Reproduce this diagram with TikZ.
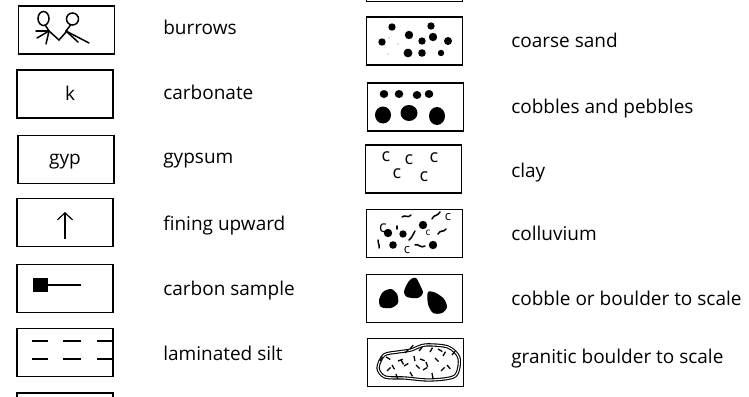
\documentclass[tikz,border=0pt]{standalone}
\usepackage{fontspec}
\setmainfont{Open Sans}
\usetikzlibrary{arrows.meta}

\begin{document}
\begin{tikzpicture}[
            x = 1pt,
            y = -1pt,
            > = {Straight Barb[length=7pt, width=15pt]},
            semithick
        ]

        \tikzstyle{symbox}=[
            draw = black,
            line width = 1.3pt,
            minimum width = 96pt,
            minimum height = 48pt,
            inner sep = 0pt
        ]
        \tikzstyle{lbl}=[
            anchor = base west,
            inner sep = 0pt,
            font = \fontsize{19}{22}\selectfont
        ]
        \tikzstyle{sym}=[
            anchor = base,
            inner sep = 0pt,
            font = \fontsize{19}{22}\selectfont
        ]
        \tikzstyle{claysym}=[
            inner sep = 0pt,
            font = \fontsize{18}{20}\selectfont
        ]

        \clip (0,0) rectangle (749,396);
        \fill[white] (0,0) rectangle (749,396);

        % left column
        \node[symbox] (burrows) at (66.5,30) {};
        \node[symbox] (carbonate) at (65,94) {};
        \node[symbox] (gypsum) at (66,159.5) {};
        \node[symbox] (fining) at (65,222.5) {};
        \node[symbox] (carbon) at (65,288.5) {};
        \node[symbox] (silt) at (65,352.5) {};
        \node[symbox] (nextleft) at (65,417) {};

        \node[lbl] (burrows-lbl) at (163,35) {burrows};
        \node[lbl] (carbonate-lbl) at (163,99) {carbonate};
        \node[lbl] (gypsum-lbl) at (163,163) {gypsum};
        \node[lbl] (fining-lbl) at (163,230) {fining upward};
        \node[lbl] (carbon-lbl) at (163,295) {carbon sample};
        \node[lbl] (silt-lbl) at (163,360) {laminated silt};

        % burrow traces
        \begin{scope}[line width=1.5pt, line cap=round]
            \draw (43.5,18.5) ellipse (5.5pt and 7pt);
            \draw (45.5,25.5) -- (49,31);
            \draw (49,31) -- (36,31);
            \draw (49,31) -- (37,38);
            \draw (49,31) -- (46,44);
            \draw (49,31) -- (59,40) -- (67,31);
            \draw (72.5,19) ellipse (6pt and 6pt);
            \draw (70.5,25) -- (66,31);
            \draw (66,31) -- (89,43);
            \draw (66,31) -- (78,42);
        \end{scope}

        \node[sym] (k) at (70,100) {k};
        \node[sym] (gyp) at (65,164) {gyp};

        \coordinate (fine-bot) at (65,239);
        \coordinate (fine-top) at (65,212);
        \draw[->, line width=1.2pt] (fine-bot) -- (fine-top);

        \fill (33,278) rectangle (48,292);
        \draw[line width=1.1pt] (48,285) -- (81,285);

        \foreach \y in {341,359}
            \foreach \a/\b in {32/48,63/81,97/113}
                \draw[line width=1.1pt] (\a,\y) -- (\b,\y);

        % right column
        \node[symbox] (prevright) at (414.5,-22.5) {};
        \node[symbox] (sand) at (414.5,41) {};
        \node[symbox] (cobbles) at (415.5,107) {};
        \node[symbox] (clay) at (413.5,169) {};
        \node[symbox] (colluvium) at (414.5,233.5) {};
        \node[symbox] (boulder) at (414.5,298.5) {};
        \node[symbox] (granitic) at (415.5,362.5) {};

        \node[lbl] (sand-lbl) at (511,48) {coarse sand};
        \node[lbl] (cobbles-lbl) at (511,113) {cobbles and pebbles};
        \node[lbl] (clay-lbl) at (511,177) {clay};
        \node[lbl] (colluvium-lbl) at (511,240) {colluvium};
        \node[lbl] (boulder-lbl) at (511,305) {cobble or boulder to scale};
        \node[lbl] (granitic-lbl) at (511,363) {granitic boulder to scale};

        % coarse sand grains
        \foreach \x/\y/\r in {392/27/3.7, 431/26/3.7, 382/42/3.7, 409/35/4.2,
                              422/41/3.7, 433/37/4.2, 448/41/4, 408/53/4.4,
                              422/53/3.8, 441/53/3.2}
            \fill (\x,\y) circle (\r pt);
        \foreach \x/\y in {389/38, 398/44, 388/54}
            \fill[black!25] (\x,\y) circle (0.8pt);

        % pebbles over cobbles
        \foreach \x/\y in {384/94, 399/94, 417/95, 429/94}
            \fill (\x,\y) ellipse (4.3pt and 4pt);
        \fill (383,115) ellipse (8pt and 8.5pt);
        \fill (409,113) ellipse (8.5pt and 8pt);
        \fill (437,116) ellipse (8pt and 9pt);

        \node[claysym] (c1) at (386,157) {c};
        \node[claysym] (c2) at (409,160) {c};
        \node[claysym] (c3) at (434,158) {c};
        \node[claysym] (c4) at (397,174) {c};
        \node[claysym] (c5) at (424,177) {c};

        % colluvium mix
        \foreach \x/\y/\r in {388/233/4.2, 403/234/3.7, 423/225/4.2, 393/245/3.8, 433/245/4.2}
            \fill (\x,\y) circle (\r pt);
        \begin{scope}[line width=1.5pt, line cap=round]
            \draw (402,217) .. controls (405,214) and (408,219) .. (411,215);
            \draw (432,219) .. controls (434,214) and (437,217) .. (440,212);
            \draw (438,234) .. controls (441,229) and (443,233) .. (446,229);
            \draw (409,240) .. controls (412,238) and (413,234) .. (415,231);
            \draw (415,245) .. controls (418,243) and (421,249) .. (425,246);
            \draw (378,240) .. controls (377,243) and (380,244) .. (379,248);
            \draw (397,226) -- (397,229);
        \end{scope}
        \node[claysym, font=\fontsize{16}{18}\selectfont] (cc1) at (383,228) {c};
        \node[claysym, font=\fontsize{13}{15}\selectfont] (cc2) at (448,217) {c};
        \node[claysym, font=\fontsize{13}{15}\selectfont] (cc3) at (407,250) {c};
        \node[claysym, font=\fontsize{10}{12}\selectfont] (cc4) at (428,233) {c};

        % cobbles to scale
        \fill plot[smooth cycle] coordinates {(383,292) (391,289) (397,294) (398,303) (391,308) (381,307) (379,300)};
        \fill plot[smooth cycle] coordinates {(411,279) (416,278) (420,285) (423,293) (418,298) (407,297) (404,292) (407,284)};
        \fill plot[smooth cycle] coordinates {(428,292) (436,293) (444,299) (447,307) (442,313) (433,313) (428,304)};

        % granitic boulder
        \draw[double, double distance=1.1pt, line width=1.1pt]
            plot[smooth cycle] coordinates {(378,368) (384,355) (398,352) (411,350) (425,345) (448,347) (459,358) (455,376) (430,380) (405,378) (385,377)};
        \foreach \x/\y/\t in {380/361/-60, 386/357/30, 392/365/60, 387/371/-45,
                              396/374/70, 401/360/60, 405/353/-45, 410/349/-50,
                              414/356/80, 419/351/-50, 416/365/45, 423/370/-30,
                              426/362/70, 430/352/-60, 435/358/45, 438/349/30,
                              443/356/-60, 447/365/50, 441/371/-45, 432/373/80,
                              410/372/60, 404/366/-30, 452/355/-50, 398/361/-20,
                              420/359/20}
            \draw[line width=1.3pt] (\x,\y) -- ++(\t:5);

\end{tikzpicture}
\end{document}
